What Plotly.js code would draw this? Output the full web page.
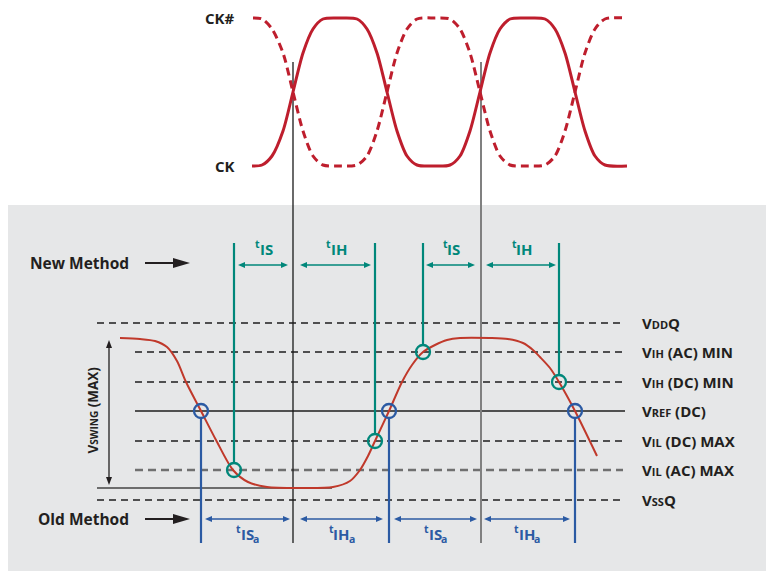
<!DOCTYPE html>
<html>
<head>
<meta charset="utf-8">
<script src="https://cdn.plot.ly/plotly-3.0.1.min.js"></script>
<style>html,body{margin:0;padding:0;background:#fff;}#chart{width:766px;height:573px;}</style>
</head>
<body>
<div id="chart"></div>
<script>
// ---- Clock waveforms ----
const ckX  = [252, 262, 272, 283, 293, 303, 313, 323, 340, 357, 367, 377, 387, 397, 407, 417, 434, 450, 460, 470, 480, 490, 500, 510, 528, 545, 555, 565, 575, 585, 595, 605, 627];
const ckY  = [166, 165, 156, 131, 92, 53, 29, 19, 18, 19, 29, 53, 92, 131, 156, 165, 166, 165, 156, 131, 92, 53, 29, 19, 18, 19, 29, 53, 92, 131, 156, 165, 166];
const ckbX = [253, 262, 272, 283, 293, 303, 313, 323, 340, 357, 367, 377, 387, 397, 407, 417, 434, 450, 460, 470, 480, 490, 500, 510, 528, 545, 555, 565, 575, 585, 595, 605, 627];
const ckbY = [18, 19, 29, 53, 92, 131, 156, 165, 166, 165, 156, 131, 92, 53, 29, 19, 18, 19, 29, 53, 92, 131, 156, 165, 166, 165, 156, 131, 92, 53, 29, 19, 18];
const clockLabels = ['CK#', 'CK'];
const clockLabelY = [18, 166];

// ---- Data signal ----
const sigX = [120, 140, 155, 167, 177, 186, 201, 216, 233, 248, 267, 300, 333, 350, 360, 368, 375, 389, 402, 412, 423, 435, 447, 460, 490, 508, 523, 533, 540, 550, 559, 575, 597];
const sigY = [338, 339, 341, 347, 361, 382, 411, 440, 470, 482, 487, 488, 487, 481, 470, 456, 441, 411, 382, 365, 352, 345, 340, 338, 338, 339, 343, 350, 357, 368, 382, 411, 456];

// ---- Voltage levels ----
const levelLabels = [
  'V<span style="font-size:11px">DD</span>Q',
  'V<span style="font-size:11px">IH</span> (AC) MIN',
  'V<span style="font-size:11px">IH</span> (DC) MIN',
  'V<span style="font-size:11px">REF</span> (DC)',
  'V<span style="font-size:11px">IL</span> (DC) MAX',
  'V<span style="font-size:11px">IL</span> (AC) MAX',
  'V<span style="font-size:11px">SS</span>Q'
];
const levelY     = [323, 352, 382, 411, 441, 470, 500];
const levelStart = [97, 135, 135, 135, 135, 135, 97];
const levelEnd   = [623, 623, 623, 625, 623, 623, 623];
const levelKind  = ['dash', 'dash', 'dash', 'solid', 'dash', 'grey', 'dash'];
const swingFloorY = 488, swingFloorX = [97, 332];

// ---- Clock edges (reference verticals) ----
const edgeX = [293, 481];
const edgeColor = ['#1a1a1a', '#808080'];
const edgeWidth = [1.3, 2];
const edgeTop = 62, edgeBottom = 543;

// ---- New method (teal) ----
const newX = [234, 375, 423, 559];
const newCrossY = [470, 441, 352, 382];
const newTop = 243;
const newSpanStart = [238, 300, 426, 486];
const newSpanEnd   = [288, 371, 475, 556];
const newSpanLabel = ['IS', 'IH', 'IS', 'IH'];
const newArrowY = 265, newLabelY = 249;

// ---- Old method (blue) ----
const oldX = [201, 389, 575];
const oldCrossY = 411;
const oldBottom = 543;
const oldSpanStart = [205, 300, 394, 484];
const oldSpanEnd   = [290, 383, 477, 570];
const oldSpanLabel = ['IS', 'IH', 'IS', 'IH'];
const oldArrowY = 519, oldLabelY = 534;
const timePrefix = 't', oldSuffix = 'a';

// ---- Method labels ----
const methodLabels = ['New Method', 'Old Method'];
const methodY = [263, 519];
const methodArrowX = [145, 190];

// ---- Swing arrow ----
const swingX = 109, swingTop = 340, swingBottom = 485;

const RED = '#be1e2d', TEAL = '#00877a', BLUE = '#2b5aa3', INK = '#231f20';
const FONT = '"Open Sans", "Liberation Sans", sans-serif';
const R = 7;

const cv = document.createElement('canvas').getContext('2d');
const measure = (s, size) => { cv.font = `bold ${size}px "Open Sans", "Liberation Sans", sans-serif`; return cv.measureText(s).width; };

const traces = [];
levelY.forEach((y, i) => {
  const k = levelKind[i];
  traces.push({
    x: [levelStart[i], levelEnd[i]], y: [y, y], mode: 'lines', hoverinfo: 'skip',
    line: {color: k === 'grey' ? '#707070' : '#1e1e1e', width: k === 'grey' ? 2.4 : (k === 'solid' ? 1.5 : 1.3),
           dash: k === 'solid' ? 'solid' : (k === 'grey' ? '8px,5px' : '7px,5px')}
  });
});
traces.push({x: swingFloorX, y: [swingFloorY, swingFloorY], mode: 'lines', hoverinfo: 'skip',
  line: {color: '#6d6d6d', width: 1.8}});
edgeX.forEach((x, i) => traces.push({x: [x, x], y: [edgeTop, edgeBottom], mode: 'lines', hoverinfo: 'skip',
  line: {color: edgeColor[i], width: edgeWidth[i]}}));
newX.forEach((x, i) => traces.push({x: [x, x], y: [newTop, newCrossY[i] - R], mode: 'lines', hoverinfo: 'skip',
  line: {color: TEAL, width: 2.2}}));
oldX.forEach(x => traces.push({x: [x, x], y: [oldCrossY + R, oldBottom], mode: 'lines', hoverinfo: 'skip',
  line: {color: BLUE, width: 2.2}}));
traces.push({x: ckbX, y: ckbY, mode: 'lines', hoverinfo: 'skip',
  line: {color: RED, width: 3, dash: '8px,5px', shape: 'spline', smoothing: 0.8}});
traces.push({x: ckX, y: ckY, mode: 'lines', hoverinfo: 'skip',
  line: {color: RED, width: 3, shape: 'spline', smoothing: 0.8}});
traces.push({x: sigX, y: sigY, mode: 'lines', hoverinfo: 'skip',
  line: {color: '#c0392b', width: 2, shape: 'spline', smoothing: 0.8}});
traces.push({x: newX, y: newCrossY, mode: 'markers', hoverinfo: 'skip',
  marker: {symbol: 'circle-open', size: 14, color: TEAL, line: {width: 2.3, color: TEAL}}});
traces.push({x: oldX, y: oldX.map(() => oldCrossY), mode: 'markers', hoverinfo: 'skip',
  marker: {symbol: 'circle-open', size: 14, color: BLUE, line: {width: 2.3, color: BLUE}}});

const annotations = [];
const txt = (x, y, text, opts) => Object.assign({x, y, xref: 'x', yref: 'y', text, showarrow: false,
  font: {family: FONT, size: 15, color: INK, weight: 700}, xanchor: 'center', yanchor: 'middle'}, opts || {});

clockLabels.forEach((t, i) => annotations.push(txt(237, clockLabelY[i], t, {xanchor: 'right'})));
levelY.forEach((y, i) => annotations.push(txt(640, y, levelLabels[i], {xanchor: 'left'})));
methodLabels.forEach((t, i) => annotations.push(txt(131, methodY[i], t, {xanchor: 'right', font: {family: FONT, size: 15.5, color: INK, weight: 700}})));

// timing labels: small raised "t", main text, optional lowered "a"
const MAIN = 15, SMALL = 10.5;
const timing = (cx, y, main, suffix, color) => {
  const wt = measure(timePrefix, SMALL), wm = measure(main, MAIN), ws = suffix ? measure(suffix, SMALL) : 0;
  const left = cx - (wt + wm + ws) / 2;
  const f = s => ({family: FONT, size: s, color, weight: 700});
  annotations.push(txt(left + wt, y, main, {xanchor: 'left', borderpad: 0, font: f(MAIN)}));
  annotations.push(txt(left + wt + 2.5, y - 5, timePrefix, {xanchor: 'right', borderpad: 0, font: f(SMALL)}));
  if (suffix) annotations.push(txt(left + wt + wm - 1, y + 5, suffix, {xanchor: 'left', borderpad: 0, font: f(SMALL)}));
};
newSpanStart.forEach((s, i) => timing((s + newSpanEnd[i]) / 2, newLabelY, newSpanLabel[i], '', TEAL));
oldSpanStart.forEach((s, i) => timing((s + oldSpanEnd[i]) / 2, oldLabelY, oldSpanLabel[i], oldSuffix, BLUE));

annotations.push(txt(92, (swingTop + swingBottom) / 2 - 2, 'V<span style="font-size:10px">SWING</span> (MAX)',
  {textangle: -90, font: {family: FONT, size: 13.5, color: INK, weight: 700}}));

const shapes = [{type: 'rect', xref: 'x', yref: 'y', x0: 8, x1: 766, y0: 205, y1: 571, fillcolor: '#e6e7e8', line: {width: 0}, layer: 'below'}];
const hArrow = (x0, x1, y, color, w, hl, hw) => {
  shapes.push({type: 'line', xref: 'x', yref: 'y', x0: x0 + hl - 1, x1: x1 - hl + 1, y0: y, y1: y, line: {color, width: w}});
  shapes.push({type: 'path', xref: 'x', yref: 'y', path: `M ${x1 - hl} ${y - hw} L ${x1} ${y} L ${x1 - hl} ${y + hw} Z`, fillcolor: color, line: {width: 0}});
  shapes.push({type: 'path', xref: 'x', yref: 'y', path: `M ${x0 + hl} ${y - hw} L ${x0} ${y} L ${x0 + hl} ${y + hw} Z`, fillcolor: color, line: {width: 0}});
};
newSpanStart.forEach((s, i) => hArrow(s, newSpanEnd[i], newArrowY, TEAL, 1.3, 7, 3));
oldSpanStart.forEach((s, i) => hArrow(s, oldSpanEnd[i], oldArrowY, BLUE, 1.3, 7, 3));
shapes.push({type: 'line', xref: 'x', yref: 'y', x0: swingX, x1: swingX, y0: swingTop + 6, y1: swingBottom - 6, line: {color: INK, width: 1.3}});
shapes.push({type: 'path', xref: 'x', yref: 'y', path: `M ${swingX - 3} ${swingTop + 8} L ${swingX} ${swingTop} L ${swingX + 3} ${swingTop + 8} Z`, fillcolor: INK, line: {width: 0}});
shapes.push({type: 'path', xref: 'x', yref: 'y', path: `M ${swingX - 3} ${swingBottom - 8} L ${swingX} ${swingBottom} L ${swingX + 3} ${swingBottom - 8} Z`, fillcolor: INK, line: {width: 0}});
methodY.forEach(y => {
  shapes.push({type: 'line', xref: 'x', yref: 'y', x0: methodArrowX[0], x1: methodArrowX[1] - 14, y0: y, y1: y, line: {color: INK, width: 2}});
  shapes.push({type: 'path', xref: 'x', yref: 'y',
    path: `M ${methodArrowX[1] - 17} ${y - 5} L ${methodArrowX[1]} ${y} L ${methodArrowX[1] - 17} ${y + 5} Z`,
    fillcolor: INK, line: {width: 0}});
});

const layout = {
  width: 766, height: 573, margin: {l: 0, r: 0, t: 0, b: 0},
  paper_bgcolor: '#ffffff', plot_bgcolor: 'rgba(0,0,0,0)', showlegend: false,
  xaxis: {range: [0, 766], visible: false, fixedrange: true},
  yaxis: {range: [573, 0], visible: false, fixedrange: true},
  shapes, annotations
};
Plotly.newPlot('chart', traces, layout, {staticPlot: true, displayModeBar: false});
</script>
</body>
</html>
